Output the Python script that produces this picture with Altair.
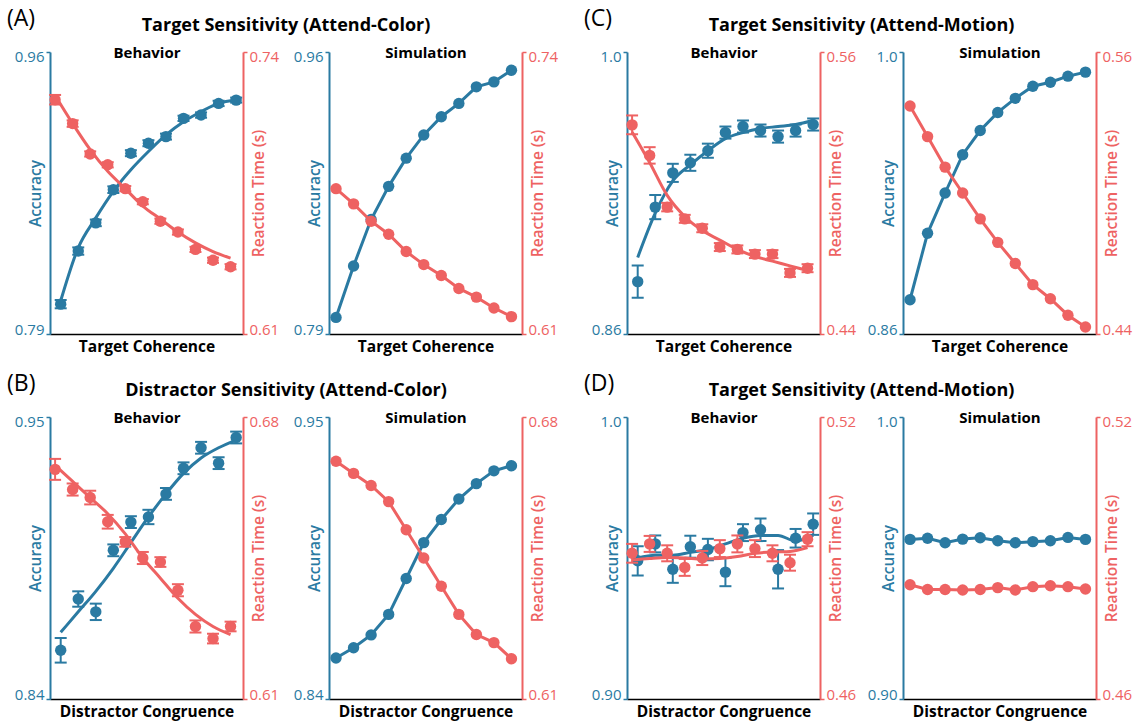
import altair as alt
import pandas as pd

BLUE = "#2a7aa2"
RED = "#ee6262"
FONT = "Open Sans"

x_idx = [1, 2, 3, 4, 5, 6, 7, 8, 9, 10, 11]

quad_titles = ["Target Sensitivity (Attend-Color)", "Target Sensitivity (Attend-Motion)",
               "Distractor Sensitivity (Attend-Color)", "Target Sensitivity (Attend-Motion)"]
letters = ["(A)", "(C)", "(B)", "(D)"]
panel_names = ["Behavior", "Simulation"]
x_titles = ["Target Coherence", "Distractor Congruence"]
acc_title = "Accuracy"
rt_title = "Reaction Time (s)"

# ---------------- (A) Target Sensitivity (Attend-Color)
a_acc_ticks = [0.79, 0.96]
a_acc_labels = ["0.79", "0.96"]
a_rt_ticks = [0.61, 0.74]
a_rt_labels = ["0.61", "0.74"]
a_beh_acc = [0.808, 0.840, 0.857, 0.877, 0.899, 0.905, 0.909, 0.920, 0.922, 0.929, 0.931]
a_beh_acc_err = [0.0025, 0.0022, 0.0020, 0.0020, 0.0018, 0.0018, 0.0018, 0.0016, 0.0016, 0.0016, 0.0015]
a_beh_acc_fit = [0.810, 0.842, 0.860, 0.876, 0.889, 0.900, 0.910, 0.918, 0.924, 0.929, 0.931]
a_beh_rt = [0.718, 0.707, 0.693, 0.688, 0.677, 0.671, 0.662, 0.657, 0.649, 0.644, 0.641]
a_beh_rt_err = [0.0022, 0.0015, 0.0012, 0.0012, 0.0012, 0.0012, 0.0012, 0.0012, 0.0012, 0.0012, 0.0012]
a_beh_rt_fit = [0.720, 0.707, 0.695, 0.685, 0.677, 0.669, 0.663, 0.657, 0.652, 0.648, 0.645]
a_sim_acc = [0.800, 0.831, 0.859, 0.879, 0.896, 0.910, 0.921, 0.929, 0.939, 0.942, 0.949]
a_sim_rt = [0.677, 0.670, 0.662, 0.656, 0.648, 0.642, 0.637, 0.631, 0.627, 0.622, 0.618]

# ---------------- (C) Target Sensitivity (Attend-Motion)
c_acc_ticks = [0.86, 1.0]
c_acc_labels = ["0.86", "1.0"]
c_rt_ticks = [0.44, 0.56]
c_rt_labels = ["0.44", "0.56"]
c_beh_acc = [0.886, 0.923, 0.940, 0.945, 0.951, 0.960, 0.963, 0.961, 0.958, 0.961, 0.964]
c_beh_acc_err = [0.008, 0.006, 0.0045, 0.004, 0.0035, 0.003, 0.003, 0.003, 0.003, 0.003, 0.003]
c_beh_acc_fit = [0.898, 0.920, 0.936, 0.944, 0.951, 0.957, 0.960, 0.962, 0.963, 0.964, 0.966]
c_beh_rt = [0.529, 0.516, 0.494, 0.489, 0.485, 0.477, 0.476, 0.474, 0.474, 0.466, 0.468]
c_beh_rt_err = [0.004, 0.0035, 0.0018, 0.0017, 0.0017, 0.0017, 0.0017, 0.0017, 0.0017, 0.0017, 0.0017]
c_beh_rt_fit = [0.526, 0.513, 0.499, 0.490, 0.484, 0.480, 0.476, 0.473, 0.471, 0.469, 0.467]
c_sim_acc = [0.877, 0.910, 0.930, 0.949, 0.961, 0.970, 0.977, 0.983, 0.985, 0.988, 0.990]
c_sim_rt = [0.537, 0.524, 0.511, 0.500, 0.489, 0.479, 0.470, 0.461, 0.455, 0.448, 0.443]

# ---------------- (B) Distractor Sensitivity (Attend-Color)
b_acc_ticks = [0.84, 0.95]
b_acc_labels = ["0.84", "0.95"]
b_rt_ticks = [0.61, 0.68]
b_rt_labels = ["0.61", "0.68"]
b_beh_acc = [0.859, 0.879, 0.874, 0.898, 0.909, 0.911, 0.920, 0.930, 0.938, 0.932, 0.942]
b_beh_acc_err = [0.0048, 0.0030, 0.0032, 0.0023, 0.0023, 0.0028, 0.0023, 0.0023, 0.0023, 0.0023, 0.0023]
b_beh_acc_fit = [0.866, 0.874, 0.882, 0.891, 0.901, 0.911, 0.920, 0.928, 0.934, 0.938, 0.941]
b_beh_rt = [0.667, 0.662, 0.660, 0.654, 0.649, 0.645, 0.644, 0.637, 0.628, 0.625, 0.628]
b_beh_rt_err = [0.0026, 0.0015, 0.0017, 0.0017, 0.0012, 0.0015, 0.0012, 0.0015, 0.0015, 0.0012, 0.0012]
b_beh_rt_fit = [0.668, 0.664, 0.660, 0.656, 0.651, 0.645, 0.640, 0.635, 0.631, 0.628, 0.626]
b_sim_acc = [0.856, 0.860, 0.865, 0.873, 0.887, 0.901, 0.910, 0.918, 0.924, 0.929, 0.931]
b_sim_rt = [0.669, 0.666, 0.663, 0.659, 0.652, 0.645, 0.638, 0.631, 0.626, 0.624, 0.620]

# ---------------- (D) Target Sensitivity (Attend-Motion), distractor congruence
d_acc_ticks = [0.90, 1.0]
d_acc_labels = ["0.90", "1.0"]
d_rt_ticks = [0.46, 0.52]
d_rt_labels = ["0.46", "0.52"]
d_beh_acc = [0.949, 0.955, 0.946, 0.954, 0.953, 0.945, 0.959, 0.960, 0.946, 0.957, 0.962]
d_beh_acc_err = [0.0052, 0.0030, 0.0048, 0.0039, 0.0038, 0.0050, 0.0030, 0.0040, 0.0068, 0.0033, 0.0038]
d_beh_acc_fit = [0.950, 0.951, 0.951, 0.952, 0.953, 0.955, 0.957, 0.958, 0.958, 0.956, 0.958]
d_beh_rt = [0.491, 0.493, 0.491, 0.488, 0.490, 0.492, 0.493, 0.492, 0.491, 0.489, 0.494]
d_beh_rt_err = [0.0020, 0.0017, 0.0017, 0.0018, 0.0015, 0.0018, 0.0018, 0.0018, 0.0017, 0.0017, 0.0015]
d_beh_rt_fit = [0.4896, 0.4899, 0.4901, 0.4900, 0.4898, 0.4899, 0.4903, 0.4910, 0.4913, 0.4914, 0.4922]
d_sim_acc = [0.9566, 0.9570, 0.9554, 0.9567, 0.9572, 0.9561, 0.9554, 0.9558, 0.9561, 0.9573, 0.9566]
d_sim_rt = [0.4843, 0.4833, 0.4833, 0.4832, 0.4833, 0.4837, 0.4832, 0.4839, 0.4841, 0.4839, 0.4834]

PW, PH = 193, 282


def y_axis(orient, ticks, labels, title, color):
    mid = (ticks[0] + ticks[1]) / 2
    return alt.Axis(
        orient=orient, values=ticks,
        labelExpr=f"datum.value < {mid} ? '{labels[0]}' : '{labels[1]}'",
        title=title, grid=False,
        domainColor=color, domainWidth=2, tickColor=color, tickWidth=1.5, tickSize=4,
        labelColor=color, labelFont=FONT, labelFontSize=15, labelFlush=True,
        labelFlushOffset=3, labelPadding=2,
        titleColor=color, titleFont=FONT, titleFontSize=15.5, titleFontWeight=600,
        titleAngle=270, titleBaseline="bottom" if orient == "left" else "top",
        titleX=-7 if orient == "left" else 8,
    )


def make_panel(name, xtitle, acc, rt, acc_ticks, acc_labels, rt_ticks, rt_labels,
               acc_err=None, rt_err=None, acc_fit=None, rt_fit=None,
               letter=None, quad_title=None, quad_center=None):
    beh = acc_err is not None
    cols = {"x": x_idx, "acc": acc, "rt": rt}
    if beh:
        cols["acc_lo"] = [v - e for v, e in zip(acc, acc_err)]
        cols["acc_hi"] = [v + e for v, e in zip(acc, acc_err)]
        cols["rt_lo"] = [v - e for v, e in zip(rt, rt_err)]
        cols["rt_hi"] = [v + e for v, e in zip(rt, rt_err)]
        cols["acc_fit"] = acc_fit
        cols["rt_fit"] = rt_fit
    df = pd.DataFrame(cols)
    base = alt.Chart(df)
    xs = alt.Scale(domain=[0.55, 11.55] if beh else [0.6, 11.6], nice=False, zero=False)
    x_bottom = alt.X("x:Q", scale=xs, axis=alt.Axis(
        orient="bottom", title=xtitle, labels=False, ticks=False, grid=False,
        domainColor="black", domainWidth=1.5, titleFont=FONT, titleFontSize=15.5,
        titleFontWeight="bold", titleColor="black", titlePadding=5))
    x_top = alt.X("x:Q", scale=xs, axis=alt.Axis(
        orient="top", title=name, labels=False, ticks=False, domain=False, grid=False,
        titleFont=FONT, titleFontSize=15, titleFontWeight="bold", titleColor="black",
        titleBaseline="alphabetic", titleY=5))
    x_none = alt.X("x:Q", scale=xs, axis=None)

    def series(field, lo, hi, fit, ticks, labels, title, color, orient, off, x_line, x_pts):
        ys = alt.Scale(domain=ticks, nice=False, zero=False)
        yax = y_axis(orient, ticks, labels, title, color)
        layers = [base.mark_line(color=color, strokeWidth=3, xOffset=off,
                                 interpolate="monotone" if beh else "linear").encode(
            x=x_line, y=alt.Y(f"{fit if beh else field}:Q", scale=ys, axis=yax))]
        if beh:
            layers.append(base.mark_rule(color=color, strokeWidth=2, xOffset=off).encode(
                x=x_none, y=alt.Y(f"{lo}:Q", scale=ys, axis=yax), y2=f"{hi}:Q"))
            for f in (lo, hi):
                layers.append(base.mark_tick(color=color, orient="horizontal", size=12,
                                             thickness=2, xOffset=off, opacity=1).encode(
                    x=x_none, y=alt.Y(f"{f}:Q", scale=ys, axis=yax)))
        layers.append(base.mark_circle(color=color, size=130, opacity=1, xOffset=off).encode(
            x=x_pts, y=alt.Y(f"{field}:Q", scale=ys, axis=yax)))
        return alt.layer(*layers)

    off = 2.8 if beh else 0
    blue = series("acc", "acc_lo", "acc_hi", "acc_fit", acc_ticks, acc_labels, acc_title,
                  BLUE, "left", off, x_bottom, x_top)
    red = series("rt", "rt_lo", "rt_hi", "rt_fit", rt_ticks, rt_labels, rt_title,
                 RED, "right", -off, x_none, x_none)
    parts = [blue, red]
    if letter:
        parts.append(alt.Chart(pd.DataFrame({"t": [letter]})).mark_text(
            font=FONT, fontSize=23, align="left", baseline="middle", color="black").encode(
            text="t:N", x=alt.value(-43), y=alt.value(-33.5)))
    if quad_title:
        parts.append(alt.Chart(pd.DataFrame({"t": [quad_title]})).mark_text(
            font=FONT, fontSize=18, fontWeight="bold", align="center", baseline="alphabetic",
            color="black").encode(text="t:N", x=alt.value(quad_center), y=alt.value(-21)))
    return alt.layer(*parts).resolve_scale(y="independent").properties(width=PW, height=PH)


a_beh = make_panel(panel_names[0], x_titles[0], a_beh_acc, a_beh_rt, a_acc_ticks, a_acc_labels,
                   a_rt_ticks, a_rt_labels, a_beh_acc_err, a_beh_rt_err, a_beh_acc_fit, a_beh_rt_fit,
                   letters[0], quad_titles[0], 236)
a_sim = make_panel(panel_names[1], x_titles[0], a_sim_acc, a_sim_rt, a_acc_ticks, a_acc_labels,
                   a_rt_ticks, a_rt_labels)
c_beh = make_panel(panel_names[0], x_titles[0], c_beh_acc, c_beh_rt, c_acc_ticks, c_acc_labels,
                   c_rt_ticks, c_rt_labels, c_beh_acc_err, c_beh_rt_err, c_beh_acc_fit, c_beh_rt_fit,
                   letters[1], quad_titles[1], 234.5)
c_sim = make_panel(panel_names[1], x_titles[0], c_sim_acc, c_sim_rt, c_acc_ticks, c_acc_labels,
                   c_rt_ticks, c_rt_labels)
b_beh = make_panel(panel_names[0], x_titles[1], b_beh_acc, b_beh_rt, b_acc_ticks, b_acc_labels,
                   b_rt_ticks, b_rt_labels, b_beh_acc_err, b_beh_rt_err, b_beh_acc_fit, b_beh_rt_fit,
                   letters[2], quad_titles[2], 236)
b_sim = make_panel(panel_names[1], x_titles[1], b_sim_acc, b_sim_rt, b_acc_ticks, b_acc_labels,
                   b_rt_ticks, b_rt_labels)
d_beh = make_panel(panel_names[0], x_titles[1], d_beh_acc, d_beh_rt, d_acc_ticks, d_acc_labels,
                   d_rt_ticks, d_rt_labels, d_beh_acc_err, d_beh_rt_err, d_beh_acc_fit, d_beh_rt_fit,
                   letters[3], quad_titles[3], 234.5)
d_sim = make_panel(panel_names[1], x_titles[1], d_sim_acc, d_sim_rt, d_acc_ticks, d_acc_labels,
                   d_rt_ticks, d_rt_labels)

quadA = alt.hconcat(a_beh, a_sim, spacing=86, bounds="flush")
quadC = alt.hconcat(c_beh, c_sim, spacing=83, bounds="flush")
quadB = alt.hconcat(b_beh, b_sim, spacing=86, bounds="flush")
quadD = alt.hconcat(d_beh, d_sim, spacing=83, bounds="flush")
row1 = alt.hconcat(quadA, quadC, spacing=26)
row2 = alt.hconcat(quadB, quadD, spacing=26)

chart = alt.vconcat(row1, row2, spacing=17).properties(
    padding={"left": 7, "top": 7, "right": 3, "bottom": 3},
    background="white",
).configure_view(stroke=None)

chart.save("out.html", embed_options={"renderer": "svg", "actions": False})
